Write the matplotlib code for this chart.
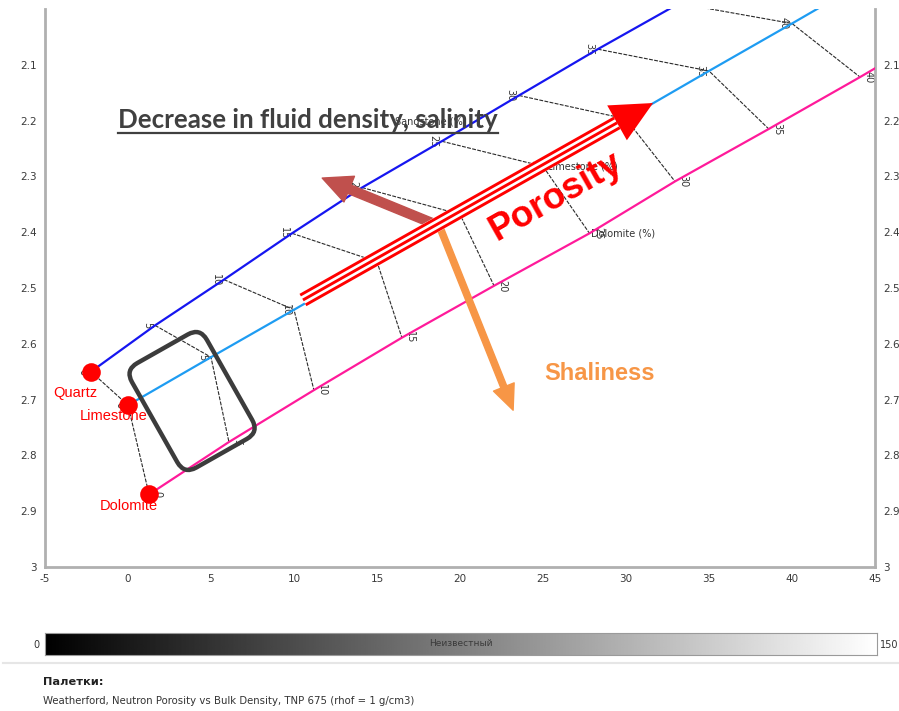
import numpy as np
import matplotlib
matplotlib.use("Agg")
import matplotlib.pyplot as plt
import matplotlib.transforms as mtransforms
from matplotlib.patches import FancyBboxPatch, Polygon
from matplotlib.lines import Line2D

# ---- chart data: neutron porosity (x) vs bulk density (y), per lithology ----
porosity = [0, 5, 10, 15, 20, 25, 30, 35, 40, 45]
sand_nphi = [-2.23, 1.63, 5.78, 9.88, 14.1, 18.9, 23.55, 28.3, 33.2, 38.0]
sand_rhob = [2.65, 2.567, 2.485, 2.402, 2.32, 2.237, 2.155, 2.072, 1.99, 1.907]
lime_nphi = [0, 5, 10, 15, 20, 25, 30, 35, 40, 45]
lime_rhob = [2.71, 2.624, 2.539, 2.453, 2.368, 2.282, 2.197, 2.111, 2.026, 1.94]
dolo_nphi = [1.27, 6.08, 11.2, 16.5, 22.05, 27.8, 32.95, 38.6, 44.1, 49.5]
dolo_rhob = [2.87, 2.776, 2.683, 2.589, 2.496, 2.402, 2.309, 2.215, 2.122, 2.028]
n_labeled = 9  # porosity steps 0..40 carry labels and iso-porosity links

minerals = ["Quartz", "Limestone", "Dolomite"]
x_ticks = [-5, 0, 5, 10, 15, 20, 25, 30, 35, 40, 45]
y_ticks = [2.1, 2.2, 2.3, 2.4, 2.5, 2.6, 2.7, 2.8, 2.9, 3.0]
y_labels = ["2.1", "2.2", "2.3", "2.4", "2.5", "2.6", "2.7", "2.8", "2.9", "3"]
cbar_min, cbar_max = 0, 150

W, H = 899, 711
fig = plt.figure(figsize=(W / 100, H / 100), dpi=100)
fig.patch.set_facecolor("white")

ax = fig.add_axes([45 / W, 1 - 567 / H, 830 / W, 558 / H])
ax.set_xlim(-5, 45)
ax.set_ylim(3.0, 2.0)
ax.set_xticks(x_ticks)
ax.set_xticklabels([str(v) for v in x_ticks])
ax.set_yticks(y_ticks)
ax.set_yticklabels(y_labels)
ax.tick_params(axis="both", length=0, labelsize=7.5, labelcolor="#3a3a3a")
ax.tick_params(axis="y", pad=6, labelright=True)
ax.tick_params(axis="x", pad=5)
for side in ("left", "bottom", "right"):
    ax.spines[side].set_color("#b0b0b0")
    ax.spines[side].set_linewidth(2.0)
ax.spines["top"].set_visible(False)

# lithology lines
line_colors = ["#1616f0", "#1e9cf2", "#ff1a9a"]
series = [(sand_nphi, sand_rhob), (lime_nphi, lime_rhob), (dolo_nphi, dolo_rhob)]
for (xs, ys), c in zip(series, line_colors):
    ax.plot(xs, ys, color=c, lw=1.6, zorder=3)

# iso-porosity dashed links
for i in range(n_labeled):
    ax.plot([sand_nphi[i], lime_nphi[i], dolo_nphi[i]],
            [sand_rhob[i], lime_rhob[i], dolo_rhob[i]],
            color="#2a2a2a", lw=0.8, ls=(0, (3.5, 1.2)), zorder=2)

# porosity labels along the lines
offsets = [-6, -6, 6]
for (xs, ys), dx in zip(series, offsets):
    for i in range(n_labeled):
        ax.annotate(str(porosity[i]), (xs[i], ys[i]), xytext=(dx, 0),
                    textcoords="offset points", rotation=-90, ha="center",
                    va="center", fontsize=7, color="#333333", zorder=2)

# lithology names
ax.annotate("Sandstone (%)", (sand_nphi[5], sand_rhob[5]), xytext=(-34, 14),
            textcoords="offset points", ha="left", va="center", fontsize=7,
            color="#333333", zorder=2)
ax.annotate("Limestone (%)", (lime_nphi[5], lime_rhob[5]), xytext=(3, 0),
            textcoords="offset points", ha="left", va="center", fontsize=7,
            color="#333333", zorder=2)
ax.annotate("Dolomite (%)", (dolo_nphi[5], dolo_rhob[5]), xytext=(1, 0),
            textcoords="offset points", ha="left", va="center", fontsize=7,
            color="#333333", zorder=2)

# matrix points
mx = [sand_nphi[0], lime_nphi[0], dolo_nphi[0]]
my = [sand_rhob[0], lime_rhob[0], dolo_rhob[0]]
ax.scatter(mx, my, s=180, color="#ff0000", zorder=6, linewidths=0)
name_off = [(-11.5, -15), (-10, -8), (-14.5, -8)]
for name, x, y, off in zip(minerals, mx, my, name_off):
    ax.annotate(name, (x, y), xytext=off, textcoords="offset points",
                ha="center", va="center", fontsize=10.5, color="#ff0000",
                family="Liberation Sans", zorder=7)

# ---- annotations ----
brown = "#c0504d"
orange = "#f79646"
red = "#ff0000"

ax.annotate("", xy=(11.7, 2.303), xytext=(18.6, 2.387),
            arrowprops=dict(arrowstyle="simple,head_length=2.1,head_width=2.0,tail_width=0.65",
                            color=brown, shrinkA=0, shrinkB=0, mutation_scale=10),
            zorder=4)
ax.annotate("", xy=(23.2, 2.719), xytext=(18.8, 2.392),
            arrowprops=dict(arrowstyle="simple,head_length=1.8,head_width=1.6,tail_width=0.45",
                            color=orange, shrinkA=0, shrinkB=0, mutation_scale=10),
            zorder=4)

# striped porosity arrow
p_start = np.array([10.54, 2.5215])
p_base = np.array([29.46, 2.204])
p_tip = np.array([31.63, 2.1685])
d0 = ax.transData.transform(p_start)
d1 = ax.transData.transform(p_base)
dt = ax.transData.transform(p_tip)
u = (d1 - d0) / np.hypot(*(d1 - d0))
perp = np.array([-u[1], u[0]])
ax.plot([p_start[0], p_base[0]], [p_start[1], p_base[1]], color="white",
        lw=10.5, solid_capstyle="butt", zorder=5)
for k in (-5.6, 0, 5.6):
    tr = mtransforms.offset_copy(ax.transData, fig=fig, x=perp[0] * k,
                                 y=perp[1] * k, units="dots")
    ax.plot([p_start[0], p_base[0]], [p_start[1], p_base[1]], color=red,
            lw=2.1, solid_capstyle="butt", transform=tr, zorder=5)
half = 20.0
head_disp = np.array([d1 + perp * half, dt, d1 - perp * half])
head_data = ax.transData.inverted().transform(head_disp)
ax.add_patch(Polygon(head_data, closed=True, color=red, lw=0, zorder=5))

ax.text(25.78, 2.337, "Porosity", rotation=29.5, rotation_mode="anchor",
        ha="center", va="center", fontsize=26.5, fontweight="bold",
        color=red, family="Liberation Sans", zorder=6)
ax.text(28.43, 2.654, "Shaliness", ha="center", va="center", fontsize=17,
        fontweight="bold", color=orange, family="Liberation Sans", zorder=6)

title = ax.text(10.84, 2.199, "Decrease in fluid density, salinity",
                ha="center", va="center", fontsize=18.6, fontweight="bold",
                color="#404040", family="Lato", zorder=6)
fig.canvas.draw()
bb = title.get_window_extent(renderer=fig.canvas.get_renderer())
fig.add_artist(Line2D([bb.x0, bb.x1], [bb.y0 - 1, bb.y0 - 1],
                      transform=mtransforms.IdentityTransform(),
                      color="#404040", lw=1.6))

# highlighted zone (rounded, tilted box)
cx, cy = ax.transData.transform((3.86, 2.7025))
bw, bh = 86, 120
box = FancyBboxPatch((-bw / 2, -bh / 2), bw, bh,
                     boxstyle="round,pad=0,rounding_size=14",
                     transform=mtransforms.Affine2D().rotate_deg(29.5).translate(cx, cy),
                     fill=False, ec="#3c3c3c", lw=3.2, zorder=6)
fig.add_artist(box)

# ---- colour scale bar ----
cax = fig.add_axes([45 / W, 1 - 655 / H, 832 / W, 22 / H])
grad = np.linspace(0, 1, 512)[None, :]
cax.imshow(grad, aspect="auto", cmap="gray", extent=[cbar_min, cbar_max, 0, 1])
cax.set_xticks([])
cax.set_yticks([])
for s in cax.spines.values():
    s.set_color("#9a9a9a")
    s.set_linewidth(0.8)
cax.text(0.5, 0.5, "Неизвестный", transform=cax.transAxes, ha="center",
         va="center", fontsize=6.5, color="#3a3a3a")
fig.text(40 / W, 1 - 645 / H, str(cbar_min), ha="right", va="center",
         fontsize=7, color="#333333")
fig.text(880 / W, 1 - 645 / H, str(cbar_max), ha="left", va="center",
         fontsize=7, color="#333333")

fig.add_artist(Line2D([3 / W, 1], [1 - 663 / H] * 2, transform=fig.transFigure,
                      color="#e6e6e6", lw=1.5))
fig.text(43 / W, 1 - 682 / H, "Палетки:", ha="left", va="center",
         fontsize=8.2, fontweight="bold", color="#222222")
fig.text(43 / W, 1 - 701 / H,
         "Weatherford, Neutron Porosity vs Bulk Density, TNP 675 (rhof = 1 g/cm3)",
         ha="left", va="center", fontsize=7.3, color="#333333")

fig.savefig("out.png", dpi=100, facecolor="white")
